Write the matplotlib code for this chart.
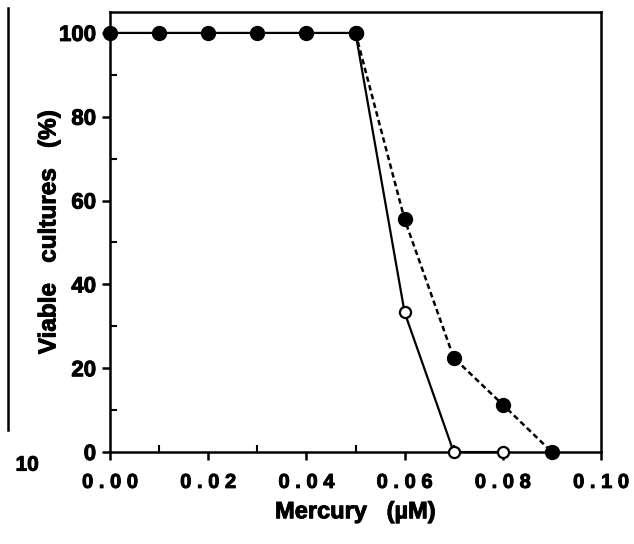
import matplotlib.pyplot as plt
from matplotlib.lines import Line2D
import matplotlib.patheffects as pe

plt.rcParams['font.family'] = ['Liberation Sans', 'DejaVu Sans']
plt.rcParams['font.weight'] = 'bold'

# series
mercurio = [0.00, 0.01, 0.02, 0.03, 0.04, 0.05, 0.06, 0.07, 0.08, 0.09]
solida_y = [100, 100, 100, 100, 100, 100, 33.3, 0, 0]
tracejada_x = [0.05, 0.06, 0.07, 0.08, 0.09]
tracejada_y = [100, 55.5, 22.5, 11.3, 0]
cheios_x = [0.00, 0.01, 0.02, 0.03, 0.04, 0.05]
cheios_y = [100, 100, 100, 100, 100, 100]
abertos_x = [0.06, 0.07, 0.08]
abertos_y = [33.3, 0, 0]

xticks = [0.00, 0.02, 0.04, 0.06, 0.08, 0.10]
xrotulos = ["0 . 0 0", "0 . 0 2", "0 . 0 4", "0 . 0 6", "0 . 0 8", "0 . 1 0"]
yticks = [0, 20, 40, 60, 80, 100]

grosso = [pe.withStroke(linewidth=0.7, foreground='black')]

fig = plt.figure(figsize=(6.34, 5.44), dpi=100)
ax = fig.add_axes([0.1735, 0.169, 0.7745, 0.809])

ax.plot(mercurio[:9], solida_y, color='black', lw=1.6, zorder=2)
ax.plot(tracejada_x, tracejada_y, color='black', lw=1.8, ls=(0, (2.2, 1.4)), zorder=2)
ax.plot(tracejada_x, tracejada_y, 'o', color='black', ms=10, ls='none', zorder=3, clip_on=False)
ax.plot(cheios_x, cheios_y, 'o', color='black', ms=10, ls='none', zorder=3, clip_on=False)
ax.plot(abertos_x, abertos_y, 'o', mfc='white', mec='black', mew=1.6, ms=8,
        ls='none', zorder=4, clip_on=False)

ax.set_xlim(0, 0.10)
ax.set_ylim(0, 105)
ax.set_xticks(xticks)
ax.set_xticklabels(xrotulos)
ax.set_yticks(yticks)
ax.set_xticks([0.01, 0.03, 0.05, 0.07, 0.09], minor=True)
ax.set_yticks([10, 30, 50, 70, 90], minor=True)
ax.tick_params(which='major', direction='out', length=6, width=1.8)
ax.tick_params(axis='x', which='major', pad=9, labelsize=14.5)
ax.tick_params(axis='y', which='major', pad=4, labelsize=16)
ax.tick_params(which='minor', direction='in', length=5, width=1.5)
for lado in ax.spines.values():
    lado.set_linewidth(1.8)

ax.set_xlabel("Mercury   (µM)", fontsize=17, fontweight='bold', labelpad=6)
ax.set_ylabel("Viable   cultures   (%)", fontsize=17.5, fontweight='bold', labelpad=-1)

# pedaco do painel vizinho
fig.add_artist(Line2D([0.0126, 0.0126], [0.21, 0.985], color='black', lw=1.8))
fig.text(0.043, 0.145, "10", fontsize=15, fontweight='bold', ha='center', va='center',
         path_effects=grosso)

for t in ax.get_xticklabels() + ax.get_yticklabels() + [ax.xaxis.label, ax.yaxis.label]:
    t.set_path_effects(grosso)

fig.savefig("out.png", dpi=100)
